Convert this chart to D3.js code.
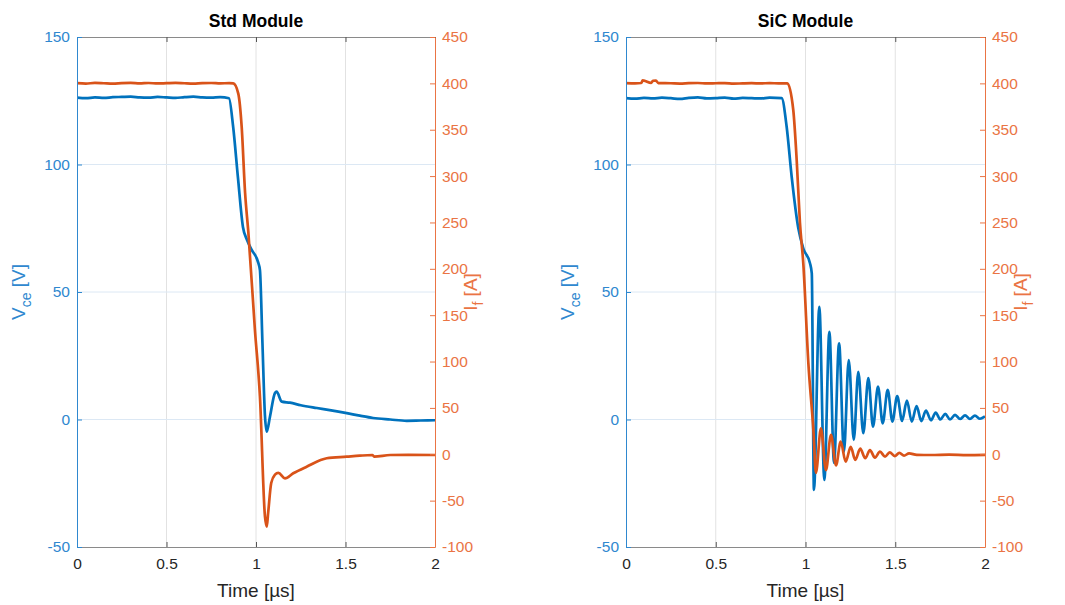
<!DOCTYPE html>
<html><head><meta charset="utf-8">
<script src="https://cdn.jsdelivr.net/npm/d3@7"></script>
<style>
body{margin:0;background:#fff}
svg{display:block}
text{font-family:"Liberation Sans",Arial,Helvetica,sans-serif}
</style>
</head><body>
<svg id="c" width="1065" height="605"></svg>
<script>
// ---------- data ----------
const panelTitles = ["Std Module", "SiC Module"];
const xTicks = [0, 0.5, 1, 1.5, 2];
const vTicks = [-50, 0, 50, 100, 150];
const iTicks = [-100, -50, 0, 50, 100, 150, 200, 250, 300, 350, 400, 450];
const xLabel = "Time [µs]";

// Std module: Vce (blue, left axis)
const stdVt = [0,0.05,0.1,0.15,0.2,0.25,0.3,0.35,0.4,0.45,0.5,0.55,0.6,0.65,0.7,0.75,0.8,0.849,
  0.872,0.899,0.927,0.95,0.976,1.013,1.022,1.036,1.05,1.06,1.078,1.106,1.115,1.144,1.19,1.25,1.34,1.42,1.507,1.58,1.654,1.75,1.842,1.92,2.0];
const stdV = [126.2,126.0,126.3,126.1,126.4,126.5,126.6,126.3,126.2,126.5,126.3,126.1,126.4,126.6,126.3,126.2,126.4,126.0,
  115,95,75.5,70.4,66.5,61.4,58.6,30,1.5,-4.8,1.1,10.4,10.9,7,6.6,5.6,4.5,3.6,2.5,1.5,0.6,0,-0.5,-0.4,-0.3];
// Std module: If (orange, right axis)
const stdIt = [0,0.05,0.1,0.15,0.2,0.25,0.3,0.35,0.4,0.45,0.5,0.55,0.6,0.65,0.7,0.75,0.8,0.85,
  0.873,0.901,0.92,0.939,0.957,0.994,1.022,1.05,1.06,1.068,1.085,1.106,1.125,1.162,1.208,1.283,1.395,1.507,1.58,1.65,1.66,1.75,1.85,2.0];
const stdI = [400.2,399.8,400.5,400.1,399.7,400.3,400.6,400.0,400.4,399.9,400.2,400.5,400.1,399.8,400.3,400.4,400.0,400.2,
  400,389,353,282,240,134,62,-67,-78,-63,-31,-22,-20,-26,-20.5,-13.4,-4.3,-2.6,-1.5,-0.8,-2.5,-0.8,-0.6,-0.8];

// SiC module: Vce (blue, left axis)
const sicVt = [0,0.05,0.1,0.15,0.2,0.25,0.3,0.35,0.4,0.45,0.5,0.55,0.6,0.65,0.7,0.75,0.8,0.867,
  0.895,0.923,0.96,0.988,1.025,1.035,1.047,1.077,1.105,1.133,1.159,1.187,1.214,1.241,1.269,1.294,1.322,1.35,1.376,1.404,1.43,
  1.458,1.484,1.511,1.538,1.565,1.592,1.619,1.645,1.671,1.699,1.725,1.752,1.778,1.805,1.833,1.861,1.889,1.916,1.944,1.972,2.0];
const sicV = [126.0,125.8,126.1,125.9,126.2,126.0,125.7,126.1,126.3,125.9,126.0,126.2,125.8,126.1,126.0,125.9,126.2,126.0,
  114.8,95.2,75,67,61.3,57.3,-27.6,44.2,-23.7,34.4,-17,29.9,-12.6,23.3,-8,18.7,-5.4,16.2,-2.8,12.9,-1.5,
  11.6,-0.8,9.2,-0.5,7.4,-0.8,5.3,-0.6,3.5,-0.3,2.7,0,2.2,0,1.8,0.2,1.6,0.2,1.5,0.3,1.2];
// SiC module: If (orange, right axis)
const sicIt = [0,0.05,0.085,0.093,0.1,0.14,0.15,0.167,0.18,0.25,0.3,0.35,0.4,0.45,0.5,0.55,0.6,0.65,0.7,0.75,0.8,0.85,0.899,
  0.932,0.951,0.969,0.988,1.016,1.044,1.058,1.086,1.114,1.142,1.17,1.196,1.224,1.252,1.277,1.305,1.333,1.359,1.387,1.415,
  1.443,1.469,1.497,1.523,1.549,1.577,1.62,1.7,1.8,1.9,2.0];
const sicI = [400.3,400.0,400.4,403.2,403.0,400.4,402.8,402.9,400.3,400.1,399.8,400.2,400.4,399.9,400.1,400.3,399.7,400.0,400.2,399.9,400.3,400.0,400,
  371,317,250,205,98,26,-20,28,-17,21,-12,13.6,-8,8,-6,6,-4.3,4.6,-3.7,2.8,
  -2.5,2.1,-2,1.5,-1.5,1,-0.6,-0.8,-0.4,-0.9,-0.7];

const panelData = [
  {vt: stdVt, v: stdV, it: stdIt, i: stdI},
  {vt: sicVt, v: sicV, it: sicIt, i: sicI}
];

// ---------- layout / style ----------
const panelX = [[77, 435], [626, 985]];
const yTop = 37, yBot = 547;
const BLUE = "#0072BD", ORANGE = "#D95319";
const BLUE_AX = "#2f88cf", ORANGE_AX = "#ea7444";
const BOX = "#8a8a8a";
const FONT = '"Liberation Sans",Arial,Helvetica,sans-serif';
const fmt = v => String(v);

const svg = d3.select("#c");

panelData.forEach((d, k) => {
  const [x0, x1] = panelX[k];
  const x = d3.scaleLinear().domain([0, 2]).range([x0, x1]);
  const yV = d3.scaleLinear().domain([-50, 150]).range([yBot, yTop]);
  const yI = d3.scaleLinear().domain([-100, 450]).range([yBot, yTop]);
  const g = svg.append("g");

  // grid
  g.append("g").selectAll("line").data(xTicks.slice(1, -1)).join("line")
    .attr("x1", t => x(t)).attr("x2", t => x(t)).attr("y1", yTop).attr("y2", yBot)
    .attr("stroke", "#e2e2e2").attr("stroke-width", 1);
  g.append("g").selectAll("line").data(vTicks.slice(1, -1)).join("line")
    .attr("y1", v => yV(v)).attr("y2", v => yV(v)).attr("x1", x0).attr("x2", x1)
    .attr("stroke", "#dce8f4").attr("stroke-width", 1);

  // clip
  const cid = "clip" + k;
  svg.append("clipPath").attr("id", cid).append("rect")
    .attr("x", x0).attr("y", yTop).attr("width", x1 - x0).attr("height", yBot - yTop);

  const lineV = d3.line().x(t => x(t)).y((t, j) => yV(d.v[j])).curve(d3.curveMonotoneX);
  const lineI = d3.line().x(t => x(t)).y((t, j) => yI(d.i[j])).curve(d3.curveMonotoneX);

  g.append("path").attr("d", lineV(d.vt)).attr("fill", "none").attr("stroke", BLUE)
    .attr("stroke-width", 2.7).attr("stroke-linejoin", "round").attr("clip-path", `url(#${cid})`);
  g.append("path").attr("d", lineI(d.it)).attr("fill", "none").attr("stroke", ORANGE)
    .attr("stroke-width", 2.7).attr("stroke-linejoin", "round").attr("clip-path", `url(#${cid})`);

  // axes
  const styleAxis = (sel, color, fs) => {
    sel.select(".domain").attr("stroke", color).attr("stroke-width", 1);
    sel.selectAll(".tick line").attr("stroke", color);
    sel.selectAll(".tick text").attr("fill", color).style("font-size", fs + "px").style("font-family", FONT);
  };
  const xb = g.append("g").attr("transform", `translate(0,${yBot})`)
    .call(d3.axisBottom(x).tickValues(xTicks).tickSizeInner(-5).tickSizeOuter(0).tickPadding(11).tickFormat(fmt));
  styleAxis(xb, "#555", 15.5);
  xb.selectAll(".tick text").attr("fill", "#262626");
  const xt = g.append("g").attr("transform", `translate(0,${yTop})`)
    .call(d3.axisTop(x).tickValues(xTicks).tickSizeInner(-5).tickSizeOuter(0).tickFormat(""));
  styleAxis(xt, "#555", 15);
  xb.select(".domain").attr("stroke", BOX);
  xt.select(".domain").attr("stroke", BOX);

  const yl = g.append("g").attr("transform", `translate(${x0},0)`)
    .call(d3.axisLeft(yV).tickValues(vTicks).tickSizeInner(-5).tickSizeOuter(0).tickPadding(7).tickFormat(fmt));
  styleAxis(yl, BLUE_AX, 15.5);
  const yr = g.append("g").attr("transform", `translate(${x1},0)`)
    .call(d3.axisRight(yI).tickValues(iTicks).tickSizeInner(-5).tickSizeOuter(0).tickPadding(7).tickFormat(fmt));
  styleAxis(yr, ORANGE_AX, 15.5);

  // title
  g.append("text").attr("x", (x0 + x1) / 2).attr("y", 27).attr("text-anchor", "middle")
    .attr("font-weight", "bold").style("font-size", "17.5px").attr("fill", "#000").text(panelTitles[k]);
  // x label
  g.append("text").attr("x", (x0 + x1) / 2).attr("y", 597).attr("text-anchor", "middle")
    .style("font-size", "19px").attr("fill", "#262626").text(xLabel);

  // y labels
  const cy = (yTop + yBot) / 2;
  const tl = g.append("text").attr("transform", `translate(${x0 - 52},${cy}) rotate(-90)`)
    .attr("text-anchor", "middle").style("font-size", "19px").attr("fill", BLUE_AX);
  tl.append("tspan").text("V");
  tl.append("tspan").attr("dy", 6).style("font-size", "14px").text("ce");
  tl.append("tspan").attr("dy", -6).text(" [V]");
  const tr = g.append("text").attr("transform", `translate(${x1 + 42},${cy}) rotate(-90)`)
    .attr("text-anchor", "middle").style("font-size", "19px").attr("fill", ORANGE_AX);
  tr.append("tspan").text("I");
  tr.append("tspan").attr("dy", 6).style("font-size", "14px").text("f");
  tr.append("tspan").attr("dy", -6).text(" [A]");
});
</script>
</body></html>
